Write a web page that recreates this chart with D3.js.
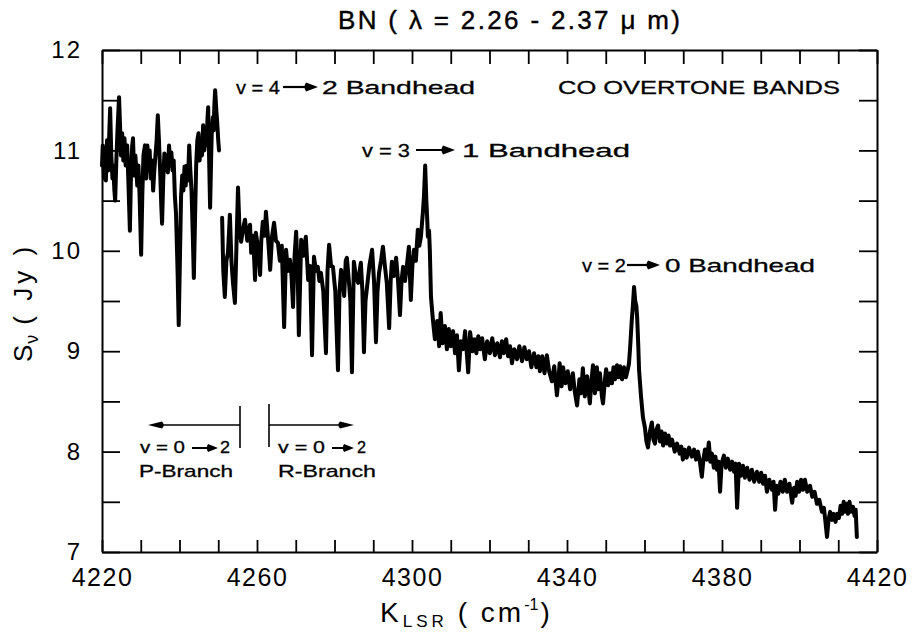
<!DOCTYPE html>
<html>
<head>
<meta charset="utf-8">
<script src="https://cdn.jsdelivr.net/npm/d3@7"></script>
<style>
  body { margin: 0; background: #fff; }
  svg { display: block; }
  text { font-family: "Liberation Sans", "DejaVu Sans", sans-serif; fill: #000; }
</style>
</head>
<body>
<svg id="chart" width="913" height="637"></svg>
<script>
// ---- data ----
const waveNumber = [
  4220.0,4220.2,4220.5,4220.8,4221.0,4221.3,4221.6,4221.9,4222.1,4222.4,
  4222.7,4222.9,4223.2,4223.4,4223.7,4224.0,4224.4,4224.7,4224.9,4225.2,
  4225.5,4225.8,4226.1,4226.5,4226.8,4227.0,4227.2,4227.5,4227.8,4228.0,
  4228.3,4228.6,4228.8,4229.1,4229.4,4229.7,4230.1,4230.4,4230.7,4231.1,
  4231.4,4231.7,4232.0,4232.3,4232.6,4232.9,4233.2,4233.5,4233.8,4234.1,
  4234.4,4234.7,4235.0,4235.3,4235.5,4235.8,4236.1,4236.4,4236.7,4237.0,
  4237.3,4237.6,4237.9,4238.2,4238.5,4238.8,4239.1,4239.5,4239.8,4240.1,
  4240.4,4240.7,4241.0,4241.3,4241.6,4241.9,4242.2,4242.5,4242.8,4243.1,
  4243.4,4243.7,4244.0,4244.3,4244.6,4244.9,4245.2,4245.5,4245.8,4246.1,
  4246.4,4246.7,4247.0,4247.2,4247.4,4247.6,4247.9,4248.1,4248.3,4248.6,
  4248.8,4249.0,4249.2,4249.5,4249.7,4250.0,4250.2,
  4250.6,
  4251.0,4251.3,4251.7,4252.1,4252.5,4252.8,4253.0,4253.4,4253.8,4254.3,
  4254.7,4255.1,4255.5,4255.9,4256.4,4256.9,4257.5,4258.2,4258.5,4259.0,
  4259.5,4259.7,4260.2,4260.8,4261.1,4261.5,4262.0,4262.3,4262.9,4263.4,
  4263.9,4264.4,4264.9,4265.4,4265.9,4266.4,4267.0,4267.5,4268.0,4268.5,
  4268.9,4269.3,4269.7,4270.1,4270.5,4270.8,4271.4,4272.0,4272.6,4273.2,
  4273.7,4274.2,4274.7,4275.2,4275.7,4276.1,4276.5,4277.1,4277.8,4278.2,
  4278.6,4279.1,4279.6,4280.2,4280.9,4281.3,4281.7,4282.1,4282.5,4282.9,
  4283.2,4283.7,4284.1,4284.5,4285.0,4285.5,4286.1,4286.5,4286.8,4287.2,
  4287.6,4288.0,4288.4,4289.0,4289.7,4290.2,4290.7,4291.1,4291.5,4292.0,
  4292.5,4293.0,4293.5,4294.1,4294.5,4294.8,4295.3,4295.9,4296.4,4296.9,
  4297.3,4297.7,4298.2,4298.7,4299.2,4299.7,4300.1,4300.5,4301.0,4301.5,
  4301.9,4302.3,4302.8,4303.1,4303.4,4303.7,4303.9,4304.1,4304.4,4304.6,
  4304.9,
  4305.4,4305.9,4306.5,4307.0,4307.4,4307.9,4308.5,4309.0,4309.5,4310.0,
  4310.6,4311.1,4311.6,4312.1,4312.6,4313.2,4313.7,4314.2,4314.5,4315.0,
  4315.6,4316.1,4316.6,4317.1,4317.6,4318.1,4318.8,4319.4,4320.1,4320.7,
  4321.4,4322.0,4322.7,4323.2,4323.7,4324.3,4324.8,4325.3,4325.8,4326.4,
  4327.1,4327.7,4328.4,4329.0,4329.6,4330.2,4330.8,4331.5,4332.1,4332.6,
  4333.0,4333.6,4334.2,4334.8,4335.4,4336.1,4336.7,4337.4,4337.8,4338.1,
  4338.6,4339.0,4339.6,4340.2,4340.8,4341.5,4342.0,4342.6,4343.2,4343.6,
  4344.1,4344.6,4345.2,4345.9,4346.3,4346.7,4347.2,4347.7,4348.1,4348.5,
  4349.0,4349.3,4349.8,4350.1,4350.6,4351.1,4351.6,4352.0,4352.4,4352.9,
  4353.3,4353.7,4354.2,4354.7,4355.2,4355.7,4356.0,4356.3,4356.7,4357.0,
  4357.3,4357.6,4357.9,4358.1,4358.4,4358.6,4359.1,4359.6,4360.1,4360.5,
  4360.9,4361.4,4361.9,4362.3,4362.7,4363.1,4363.5,4364.0,4364.4,4364.8,
  4365.3,4365.8,4366.2,4366.6,4367.1,4367.8,4368.4,4369.1,4369.5,4369.9,
  4370.4,4370.9,4371.5,4372.2,4372.8,4373.3,4373.8,4374.3,4374.8,4375.2,
  4375.6,4376.1,4376.6,4377.0,4377.4,4377.9,4378.3,4378.7,4379.1,4379.5,
  4379.9,4380.5,4381.0,4381.5,4382.1,4382.6,4383.1,4383.5,4383.9,4384.4,
  4384.9,4385.4,4385.9,4386.5,4387.1,4387.7,4388.3,4389.0,4389.6,4390.1,
  4390.6,4391.1,4391.6,4392.2,4392.9,4393.3,4393.7,4394.1,4394.5,4395.1,
  4395.7,4396.2,4396.8,4397.4,4398.1,4398.6,4399.0,4399.4,4399.9,4400.4,
  4400.9,4401.4,4402.0,4402.7,4403.3,4403.9,4404.5,4405.1,4405.8,4406.3,
  4406.7,4407.1,4407.5,4407.9,4408.4,4408.8,4409.3,4409.7,4410.2,4410.6,
  4411.0,4411.4,4411.7,4412.1,4412.5,4412.9,4413.3,4413.8,4414.2,4414.5,
  4414.8
];
const fluxJy = [
  10.85,11.05,10.72,11.00,10.70,11.10,10.80,11.20,11.42,10.95,
  10.72,10.85,10.60,10.50,10.90,11.20,11.53,11.20,10.95,11.17,
  10.90,11.12,10.85,11.05,10.70,10.45,10.20,10.80,11.05,11.12,
  10.75,10.95,10.84,10.65,10.85,10.55,9.96,10.55,10.95,11.05,
  10.72,11.05,10.80,11.00,10.72,10.90,10.60,10.80,10.95,11.10,
  11.35,11.10,10.80,10.45,10.27,10.70,10.97,10.80,10.95,10.78,
  11.05,10.85,10.98,10.80,10.90,10.55,10.37,9.80,9.26,9.90,
  10.54,10.75,10.60,10.84,10.65,10.85,10.70,11.05,10.80,10.60,
  10.20,9.73,10.30,10.85,11.10,11.17,10.90,11.10,10.95,11.25,
  11.00,11.20,11.05,11.30,11.43,11.00,10.43,10.80,11.15,11.33,
  11.20,11.45,11.60,11.40,11.30,11.10,11.00,
  null,
  10.33,9.80,9.54,9.90,9.98,10.20,10.36,9.90,9.68,9.48,
  10.05,10.63,10.20,10.09,10.22,10.31,10.10,10.26,9.98,10.15,
  9.71,10.18,10.05,9.76,10.10,10.29,10.15,10.39,10.10,9.81,
  10.15,10.28,10.10,10.08,9.90,10.05,9.24,10.01,9.80,9.91,
  9.75,9.44,9.95,10.19,9.80,9.16,10.11,9.95,10.14,9.71,
  9.85,8.96,9.94,9.80,9.84,9.70,9.78,9.60,8.98,9.80,
  10.06,9.85,9.84,9.60,8.81,9.60,9.81,9.70,9.55,9.90,
  9.93,9.70,9.50,8.79,9.89,9.75,9.68,9.80,9.88,9.60,
  8.99,9.50,9.64,9.85,10.01,9.70,9.09,9.60,9.78,9.90,
  10.04,9.85,9.68,9.23,9.70,9.89,9.75,9.93,9.70,9.36,
  9.70,9.84,9.70,9.86,10.04,9.51,9.85,10.01,9.90,10.21,
  10.05,10.14,10.38,10.55,10.85,10.50,10.34,10.14,10.20,10.01,
  9.54,
  9.31,9.12,9.30,9.05,9.38,9.08,9.25,9.02,9.22,9.05,
  9.20,8.98,9.16,8.81,9.10,9.02,9.20,8.95,8.79,9.19,
  9.00,9.12,8.98,9.15,9.02,9.13,8.92,9.10,8.98,9.13,
  8.96,9.08,8.94,9.10,8.98,9.12,8.95,9.05,8.88,9.02,
  8.92,9.05,8.90,9.04,8.92,9.00,8.84,8.98,8.84,8.95,
  8.80,8.95,8.78,8.96,8.80,8.70,8.85,8.56,8.72,8.88,
  8.65,8.84,8.68,8.80,8.62,8.78,8.60,8.46,8.72,8.58,
  8.83,8.55,8.75,8.48,8.70,8.86,8.58,8.84,8.62,8.78,
  8.55,8.48,8.72,8.82,8.66,8.78,8.68,8.84,8.72,8.86,
  8.74,8.85,8.72,8.84,8.74,8.82,8.88,9.04,9.30,9.45,
  9.64,9.50,9.45,9.34,9.05,8.81,8.55,8.34,8.24,8.10,
  8.04,8.20,8.29,8.12,8.08,8.22,8.26,8.10,8.20,8.06,
  8.18,8.08,8.16,8.06,8.12,8.00,8.08,7.98,8.05,7.92,
  8.02,7.94,8.04,7.95,8.02,7.92,8.00,7.90,7.75,7.92,
  8.02,7.92,8.09,7.90,7.98,7.84,7.95,7.82,7.90,7.60,
  7.88,7.96,7.84,7.93,7.82,7.90,7.80,7.88,7.44,7.88,
  7.76,7.86,7.74,7.84,7.72,7.82,7.70,7.80,7.70,7.79,
  7.68,7.76,7.60,7.72,7.62,7.70,7.42,7.66,7.58,7.70,
  7.60,7.72,7.60,7.68,7.49,7.64,7.56,7.70,7.60,7.72,
  7.62,7.72,7.60,7.66,7.55,7.60,7.48,7.52,7.40,7.44,
  7.30,7.15,7.32,7.40,7.32,7.38,7.30,7.38,7.34,7.46,
  7.38,7.50,7.40,7.48,7.38,7.50,7.40,7.45,7.36,7.42,
  7.15
];
const xTickValues = d3.range(4220, 4421, 10);
const xTickLabels = [4220, 4260, 4300, 4340, 4380, 4420];
const yTickValues = d3.range(7, 12.01, 0.5);
const yTickLabels = [7, 8, 9, 10, 11, 12];

// ---- layout ----
const svg = d3.select("#chart");
const x = d3.scaleLinear().domain([4220, 4420]).range([102, 877]);
const y = d3.scaleLinear().domain([7, 12]).range([552, 50]);
const font = '"Liberation Sans", "DejaVu Sans", sans-serif';

function styleAxis(g, fs) {
  g.select(".domain").attr("stroke", "#000").attr("stroke-width", 2);
  g.selectAll(".tick line").attr("stroke", "#000").attr("stroke-width", 1.8);
  g.selectAll(".tick text").attr("font-family", font).attr("font-size", fs).attr("fill", "#000");
}

// bottom
const gB = svg.append("g").attr("transform", `translate(0,${y(7)})`)
  .call(d3.axisBottom(x).tickValues(xTickValues).tickSizeInner(-12).tickSizeOuter(0)
    .tickPadding(16).tickFormat(d => xTickLabels.includes(d) ? d : ""));
styleAxis(gB, 25);
gB.selectAll(".tick text").attr("letter-spacing", "1.5px");
// top
const gT = svg.append("g").attr("transform", `translate(0,${y(12)})`)
  .call(d3.axisTop(x).tickValues(xTickValues).tickSizeInner(-14).tickSizeOuter(0).tickFormat(""));
styleAxis(gT, 0);
// left
const gL = svg.append("g").attr("transform", `translate(${x(4220)},0)`)
  .call(d3.axisLeft(y).tickValues(yTickValues).tickSizeInner(-18).tickSizeOuter(0)
    .tickPadding(20).tickFormat(d => yTickLabels.includes(d) ? d : ""));
styleAxis(gL, 24);
gL.selectAll(".tick text").attr("letter-spacing", "2px");
// right
const gR = svg.append("g").attr("transform", `translate(${x(4420)},0)`)
  .call(d3.axisRight(y).tickValues(yTickValues).tickSizeInner(-18).tickSizeOuter(0).tickFormat(""));
styleAxis(gR, 0);

// spectrum
const pts = waveNumber.map((w, i) => [w, fluxJy[i]]);
const line = d3.line().defined(d => d[1] !== null && d[1] !== undefined).x(d => x(d[0])).y(d => y(d[1]));
svg.append("path").datum(pts)
  .attr("d", line).attr("fill", "none").attr("stroke", "#000")
  .attr("stroke-width", 4).attr("stroke-linejoin", "round").attr("stroke-linecap", "round");

// ---- text helpers ----
function txt(s, x0, yb, fs, len) {
  const t = svg.append("text").attr("x", x0).attr("y", yb).attr("font-size", fs)
    .attr("stroke", "#000").attr("stroke-width", 0.3).text(s);
  if (len) t.attr("textLength", len).attr("lengthAdjust", "spacingAndGlyphs");
  return t;
}
function arrow(x1, x2, yy, w, hl, hw) {
  const dir = x2 > x1 ? 1 : -1;
  svg.append("line").attr("x1", x1).attr("x2", x2 - dir * hl * 0.5).attr("y1", yy).attr("y2", yy)
    .attr("stroke", "#000").attr("stroke-width", w);
  svg.append("path")
    .attr("d", `M${x2},${yy} L${x2 - dir * hl},${yy - hw} Q${x2 - dir * hl * 1.25},${yy} ${x2 - dir * hl},${yy + hw} Z`)
    .attr("fill", "#000");
}

// title
const title = svg.append("text").attr("x", 338).attr("y", 29).attr("font-size", 26)
  .attr("stroke", "#000").attr("stroke-width", 0.4)
  .attr("textLength", 342).attr("lengthAdjust", "spacing");
title.text("BN ( λ = 2.26 - 2.37 μ m)");

// bandhead annotations
txt("v = 4", 236, 94, 19, 44);
arrow(283, 318, 87, 2.2, 12, 4.5);
txt("2 Bandhead", 322, 94, 19, 153);
txt("CO OVERTONE BANDS", 558, 94, 19, 282);

txt("v = 3", 362, 157, 19, 48);
arrow(416, 455, 150, 2.2, 12, 4.5);
txt("1 Bandhead", 462, 157, 19, 168);

txt("v = 2", 582, 272, 19, 44);
arrow(627, 660, 265, 2.2, 12, 4.5);
txt("0 Bandhead", 665, 272, 19, 150);

// branch annotations
svg.append("line").attr("x1", 240).attr("x2", 240).attr("y1", 406).attr("y2", 448).attr("stroke", "#000").attr("stroke-width", 1.6);
arrow(240, 148, 425, 1.6, 14, 3.5);
svg.append("line").attr("x1", 269).attr("x2", 269).attr("y1", 404).attr("y2", 447).attr("stroke", "#000").attr("stroke-width", 1.6);
arrow(269, 354, 425, 1.6, 14, 3.5);

txt("v = 0", 140, 453, 17, 45);
arrow(192, 218, 448, 2, 10, 4);
txt("2", 220, 453, 17, 10);
txt("P-Branch", 139, 477, 17, 94);

txt("v = 0", 278, 453, 17, 47);
arrow(332, 354, 448, 2, 10, 4);
txt("2", 357, 453, 17, 9);
txt("R-Branch", 278, 477, 17, 98);

// x axis title: K_LSR (cm^-1)
const xt = svg.append("text").attr("x", 380).attr("y", 622).attr("font-size", 28);
xt.append("tspan").text("K");
xt.append("tspan").attr("font-size", 17).attr("dy", 5).attr("dx", 4).attr("letter-spacing", "4px").text("LSR");
xt.append("tspan").attr("dy", -5).attr("dx", 10).attr("letter-spacing", "3px").text("( cm");
xt.append("tspan").attr("font-size", 16).attr("dy", -12).text("-1");
xt.append("tspan").attr("dy", 12).attr("dx", 2).text(")");

// y axis title: S_nu (Jy)
const yt = svg.append("text").attr("transform", "translate(32,362) rotate(-90)").attr("font-size", 26);
yt.append("tspan").text("S");
yt.append("tspan").attr("font-size", 18).attr("dy", 6).attr("dx", 1).text("ν");
yt.append("tspan").attr("dy", -6).attr("dx", 10).attr("letter-spacing", "4px").text("( Jy )");
</script>
</body>
</html>
